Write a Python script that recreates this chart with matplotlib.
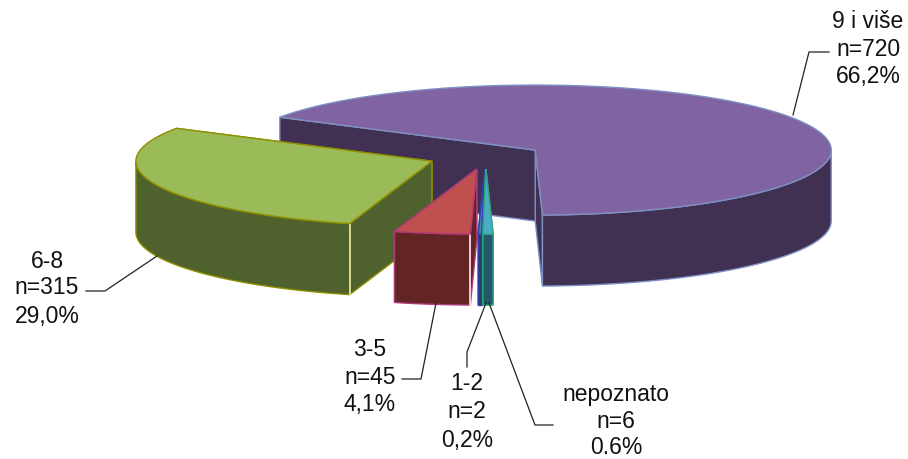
import numpy as np
import matplotlib
matplotlib.use('Agg')
import matplotlib.pyplot as plt
from matplotlib.patches import Polygon

plt.rcParams['font.family'] = ['Liberation Sans', 'DejaVu Sans']

categories = ['9 i više', '6-8', '3-5', '1-2', 'nepoznato']
counts = [720, 315, 45, 2, 6]
percents = ['66,2%', '29,0%', '4,1%', '0,2%', '0.6%']

top_colors = ['#8064a2', '#9bbb59', '#c0504d', '#4f81bd', '#4bacc6']
side_colors = ['#403152', '#4f612c', '#632523', '#254061', '#215968']
edge_colors = ['#7f90c4', '#8f8f00', '#b03a78', '#2f3fa8', '#2fa880']
# light line on the corner where the wedge ends
corner_colors = [None, '#e8e8a8', '#f6e8f0', None, None]

# label centre x and y of each of the three lines
label_x = [868, 47, 370, 467, 616]
label_y = [(22, 50, 77), (261, 288, 316), (349, 378, 405), (383, 412, 440), (394, 421, 447)]
leaders = [
    [(793, 115), (809, 52), (829, 52)],
    [(86, 291), (105, 291), (157, 256)],
    [(402, 379), (421, 379), (436, 303)],
    [(467, 367), (467, 352), (486, 303)],
    [(553, 425), (535, 425), (489, 303)],
]

# projection of the tilted pie in pixels
cx, cy = 485.5, 156.5
rx, ry = 296, 65
depth = 71
explode = 0.195
start = -88.6


def rim(angles, ox, oy):
    a = np.radians(angles)
    return np.column_stack([ox + rx * np.cos(a), oy - ry * np.sin(a)])


def down(pts):
    return pts + np.array([0, depth])


fig = plt.figure(figsize=(9.08, 4.59), dpi=100)
ax = fig.add_axes([0, 0, 1, 1])
ax.set_xlim(0, 908)
ax.set_ylim(459, 0)
ax.axis('off')

shares = np.array(counts) / sum(counts) * 360
a0 = start
z = 2
for i in range(len(counts)):
    a1 = a0 + shares[i]
    mid = np.radians((a0 + a1) / 2)
    ox = cx + explode * rx * np.cos(mid)
    oy = cy - explode * ry * np.sin(mid)
    apex = np.array([[ox, oy]])
    angles = np.linspace(a0, a1, 200)
    arc = rim(angles, ox, oy)

    # the two cut walls
    for edge in (arc[:1], arc[-1:]):
        wall = np.vstack([apex, edge, down(edge), down(apex)])
        ax.add_patch(Polygon(wall, closed=True, facecolor=side_colors[i],
                             edgecolor=edge_colors[i], lw=1, zorder=z))
        z += 1

    # outer wall, only the part facing the viewer
    s = np.sin(np.radians(angles))
    front = arc[s <= 0]
    wall = np.vstack([front, down(front)[::-1]])
    ax.add_patch(Polygon(wall, closed=True, facecolor=side_colors[i],
                         edgecolor=edge_colors[i], lw=1, zorder=z))
    z += 1

    if corner_colors[i]:
        end = arc[-1]
        ax.plot([end[0], end[0]], [end[1], end[1] + depth], color=corner_colors[i],
                lw=1.2, zorder=z)
        z += 1

    ax.add_patch(Polygon(np.vstack([apex, arc]), closed=True, facecolor=top_colors[i],
                         edgecolor=edge_colors[i], lw=1, zorder=z))
    z += 1
    a0 = a1

for i, name in enumerate(categories):
    lines = [name, 'n=' + str(counts[i]), percents[i]]
    for j, line in enumerate(lines):
        ax.text(label_x[i], label_y[i][j], line, ha='center', va='center', fontsize=16.5,
                color='#111111', zorder=z + 1)
    xs, ys = zip(*leaders[i])
    ax.plot(xs, ys, color='#222222', lw=0.9, zorder=z + 1)

plt.savefig('out.png', dpi=100)
